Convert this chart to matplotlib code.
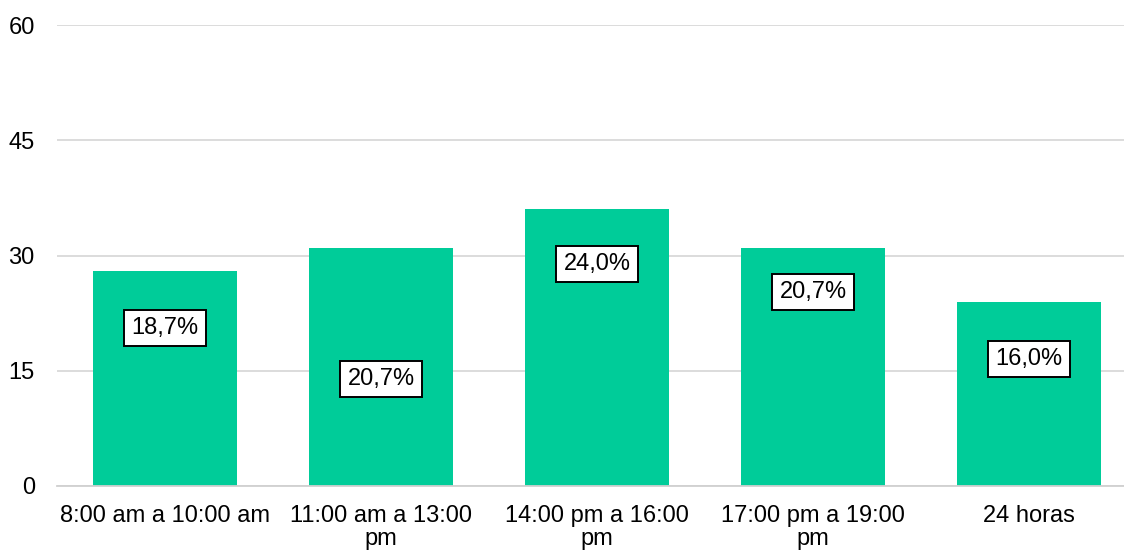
import matplotlib.pyplot as plt
import numpy as np

plt.rcParams['font.family'] = ['Liberation Sans', 'DejaVu Sans']

# datos
horarios = ['8:00 am a 10:00 am', '11:00 am a 13:00\npm', '14:00 pm a 16:00\npm',
            '17:00 pm a 19:00\npm', '24 horas']
respuestas = [28, 31, 36, 31, 24]
porcentajes = ['18,7%', '20,7%', '24,0%', '20,7%', '16,0%']
# altura de cada etiqueta dentro de la barra
altura_etiqueta = [20.6, 13.9, 28.9, 25.2, 16.5]

fig = plt.figure(figsize=(11.24, 5.51), dpi=100)
ax = fig.add_axes([57 / 1124, 1 - 486 / 551, 1 - 57 / 1124, (486 - 25) / 551])

x = np.arange(len(horarios))
ax.bar(x, respuestas, width=0.667, color='#00cc99', zorder=2)

for xi, yi, txt in zip(x, altura_etiqueta, porcentajes):
    ax.text(xi, yi, txt, ha='center', va='center', fontsize=17, zorder=3,
            bbox=dict(boxstyle='square,pad=0.3', facecolor='white',
                      edgecolor='black', linewidth=1.4))

ax.set_xlim(-0.5, 4.44)
ax.set_ylim(0, 60)
ax.set_yticks(np.arange(0, 61, 15))
ax.set_xticks(x)
ax.set_xticklabels(horarios, fontsize=17, linespacing=1.02)
ax.tick_params(axis='y', labelsize=17, length=0, pad=16)
ax.tick_params(axis='x', length=0, pad=14)

ax.grid(axis='y', color='#d9d9d9', linewidth=1.3, zorder=0)
for s in ['top', 'right', 'left']:
    ax.spines[s].set_visible(False)
ax.spines['bottom'].set_color('#d0d0d0')
ax.spines['bottom'].set_linewidth(1.3)

plt.savefig('out.png', dpi=100)
